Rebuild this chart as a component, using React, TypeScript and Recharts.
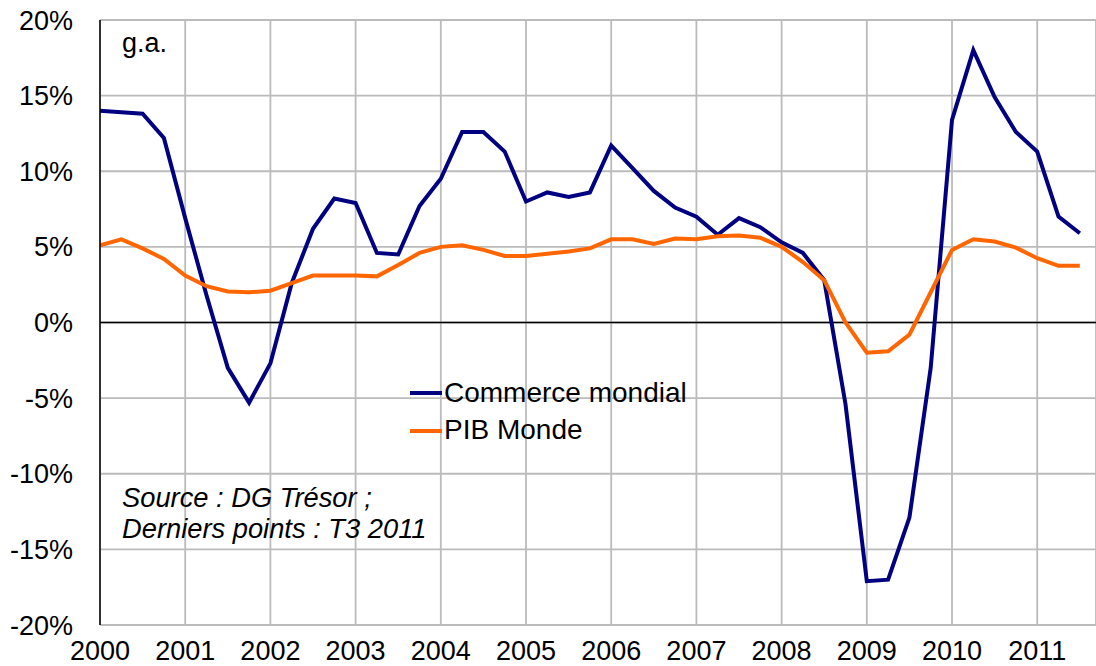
import { CartesianGrid, Line, LineChart, ReferenceLine, XAxis, YAxis } from 'recharts'

// quarterly, 2000 T1 .. 2011 T3
const QUARTERS = [
  '2000T1', '2000T2', '2000T3', '2000T4',
  '2001T1', '2001T2', '2001T3', '2001T4',
  '2002T1', '2002T2', '2002T3', '2002T4',
  '2003T1', '2003T2', '2003T3', '2003T4',
  '2004T1', '2004T2', '2004T3', '2004T4',
  '2005T1', '2005T2', '2005T3', '2005T4',
  '2006T1', '2006T2', '2006T3', '2006T4',
  '2007T1', '2007T2', '2007T3', '2007T4',
  '2008T1', '2008T2', '2008T3', '2008T4',
  '2009T1', '2009T2', '2009T3', '2009T4',
  '2010T1', '2010T2', '2010T3', '2010T4',
  '2011T1', '2011T2', '2011T3',
]

const COMMERCE = [
  14.0, 13.9, 13.8, 12.2,
  6.9, 1.8, -3.0, -5.3,
  -2.7, 2.6, 6.2, 8.2,
  7.9, 4.6, 4.5, 7.7,
  9.5, 12.6, 12.6, 11.3,
  8.0, 8.6, 8.3, 8.6,
  11.7, 10.2, 8.7, 7.6,
  7.0, 5.8, 6.9, 6.3,
  5.3, 4.6, 2.8, -5.4,
  -17.1, -17.0, -12.9, -3.0,
  13.4, 18.0, 14.9, 12.6,
  11.3, 7.0, 5.9,
]

const PIB = [
  5.1, 5.5, 4.9, 4.2,
  3.1, 2.4, 2.05, 2.0,
  2.1, 2.6, 3.1, 3.1,
  3.1, 3.05, 3.8, 4.6,
  5.0, 5.1, 4.8, 4.4,
  4.4, 4.55, 4.7, 4.9,
  5.5, 5.5, 5.2, 5.55,
  5.5, 5.7, 5.75, 5.6,
  5.0, 4.0, 2.8, 0.0,
  -2.0, -1.9, -0.8, 2.0,
  4.8, 5.5, 5.35, 4.95,
  4.25, 3.75, 3.75,
]

const YEARS = [2000, 2001, 2002, 2003, 2004, 2005, 2006, 2007, 2008, 2009, 2010, 2011]
const Y_TICKS = [-20, -15, -10, -5, 0, 5, 10, 15, 20]

const data = QUARTERS.map((q, i) => ({
  t: Number(q.slice(0, 4)) + (Number(q.slice(5)) - 1) / 4,
  commerce: COMMERCE[i],
  pib: PIB[i],
}))

const FONT = '"Liberation Sans", Arial, sans-serif'
const BLUE = '#000080'
const ORANGE = '#ff6600'

export default function App() {
  return (
    <div style={{ position: 'absolute', left: 0, top: 0, width: 1096, height: 666, background: '#fff', fontFamily: FONT }}>
      <LineChart width={1096} height={666} data={data} margin={{ top: 20, right: 0, bottom: 0, left: 0 }}>
        <CartesianGrid stroke="#bbbbbb" strokeWidth={1.8} />
        <XAxis
          dataKey="t"
          type="number"
          domain={[2000, 2011.69]}
          ticks={YEARS}
          allowDataOverflow
          axisLine={false}
          tickLine={false}
          tickSize={0}
          tickMargin={16}
          height={41}
          interval={0}
          tick={{ fill: '#000', fontSize: 27, fontFamily: FONT }}
        />
        <YAxis
          type="number"
          domain={[-20, 20]}
          ticks={Y_TICKS}
          width={100}
          axisLine={{ stroke: '#000', strokeWidth: 1.5 }}
          tickLine={false}
          tickSize={0}
          tickMargin={27}
          tickFormatter={(v) => `${v}%`}
          tick={{ fill: '#000', fontSize: 27, fontFamily: FONT }}
        />
        <ReferenceLine y={0} stroke="#000" strokeWidth={1.5} />
        <Line type="linear" dataKey="commerce" stroke={BLUE} strokeWidth={4} dot={false} isAnimationActive={false} />
        <Line type="linear" dataKey="pib" stroke={ORANGE} strokeWidth={4} dot={false} isAnimationActive={false} />
      </LineChart>

      <svg width={1096} height={666} style={{ position: 'absolute', left: 0, top: 0, pointerEvents: 'none' }}>
        <g fontFamily={FONT} fill="#000">
          <text x={122} y={52} fontSize={27}>g.a.</text>

          <line x1={410} x2={442} y1={393} y2={393} stroke={BLUE} strokeWidth={4} />
          <text x={444} y={402} fontSize={28}>Commerce mondial</text>
          <line x1={410} x2={442} y1={431} y2={431} stroke={ORANGE} strokeWidth={4} />
          <text x={444} y={439} fontSize={28}>PIB Monde</text>

          <text x={122} y={507} fontSize={27.3} fontStyle="italic">Source : DG Trésor ;</text>
          <text x={122} y={538} fontSize={27.3} fontStyle="italic">Derniers points : T3 2011</text>
        </g>
      </svg>
    </div>
  )
}
